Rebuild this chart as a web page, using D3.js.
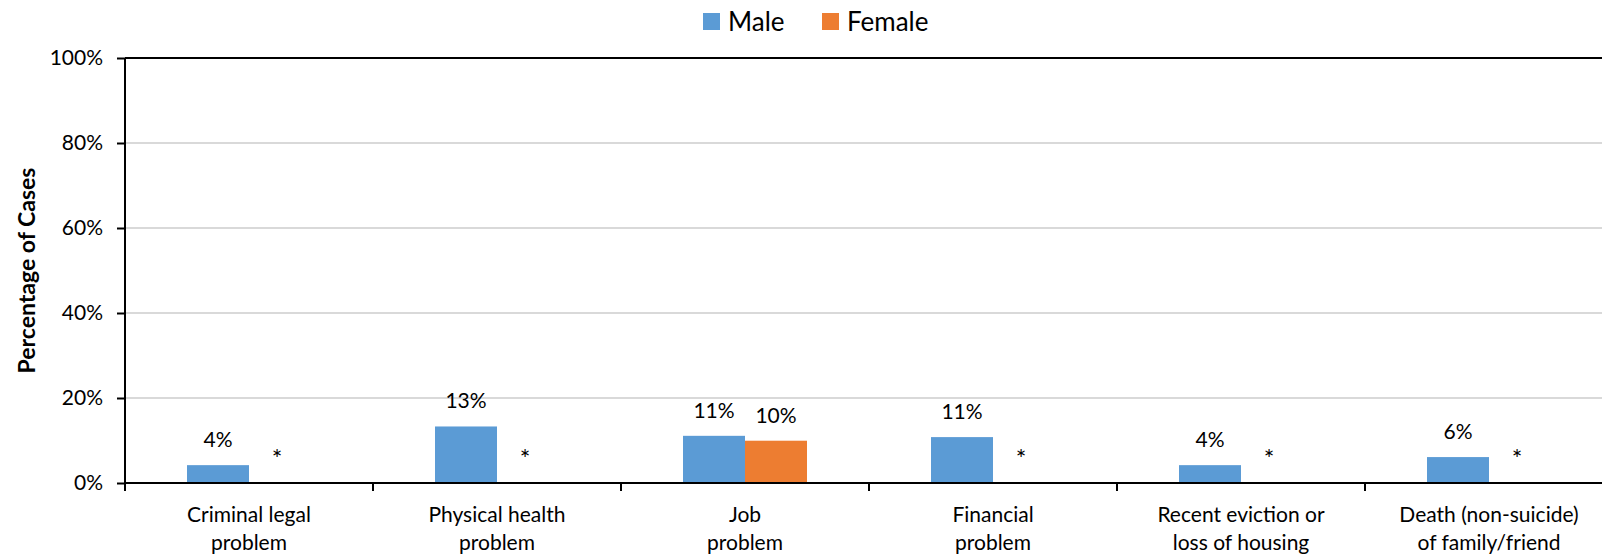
<!DOCTYPE html>
<html><head><meta charset="utf-8">
<script src="https://cdn.jsdelivr.net/npm/d3@7"></script>
<style>body{margin:0;background:#fff}svg{display:block}text{font-family:Lato,"Open Sans",sans-serif;fill:#000}</style>
</head><body><svg id="c" width="1602" height="557"></svg>
<script>
const categories = [["Criminal legal","problem"],["Physical health","problem"],["Job","problem"],["Financial","problem"],["Recent eviction or","loss of housing"],["Death (non-suicide)","of family/friend"]];
const seriesNames = ["Male","Female"];
const colors = ["#5B9BD5","#ED7D31"];
const maleValues = [4.2, 13.3, 11.1, 10.8, 4.2, 6.1];
const femaleValues = [null, null, 9.95, null, null, null];
const maleLabels = ["4%","13%","11%","11%","4%","6%"];
const femaleLabels = ["*","*","10%","*","*","*"];
const yTicks = [0,20,40,60,80,100];

(function(){
const svg = d3.select("#c");
const pLeft = 125, bandW = 248, pTop = 58, pBottom = 483;
const x = d3.scaleBand().domain(d3.range(categories.length)).range([pLeft, pLeft + bandW*categories.length]).paddingInner(0).paddingOuter(0);
const xs = d3.scaleBand().domain([0,1]).range([0, x.bandwidth()]).paddingInner(0).paddingOuter(1);
const y = d3.scaleLinear().domain([0,100]).range([pBottom, pTop]);

svg.append("g").selectAll("line").data(yTicks.filter(t=>t>0&&t<100)).join("line")
  .attr("x1", pLeft).attr("x2", 1602).attr("y1", d=>y(d)).attr("y2", d=>y(d))
  .attr("stroke", "#d9d9d9").attr("stroke-width", 2);
svg.append("line").attr("x1", pLeft).attr("x2", 1602).attr("y1", y(100)).attr("y2", y(100)).attr("stroke","#000").attr("stroke-width",2);

const series = [maleValues, femaleValues];
const labels = [maleLabels, femaleLabels];
series.forEach((vals, si) => {
  svg.append("g").selectAll("rect").data(vals.map((v,i)=>({v,i})).filter(d=>d.v!=null)).join("rect")
    .attr("x", d => x(d.i) + xs(si)).attr("width", xs.bandwidth())
    .attr("y", d => y(d.v)).attr("height", d => y(0) - y(d.v))
    .attr("fill", colors[si]);
  svg.append("g").selectAll("text").data(vals.map((v,i)=>({v,i,l:labels[si][i]}))).join("text")
    .attr("x", d => x(d.i) + xs(si) + xs.bandwidth()/2 + (d.v==null ? -3 : 0))
    .attr("y", d => d.v==null ? y(0) - 15 : y(d.v) - 18)
    .attr("text-anchor","middle").attr("font-size", d=> d.v==null ? 25 : 21).text(d => d.l);
});

const yAxis = d3.axisLeft(y).tickValues(yTicks).tickFormat(d=>d+"%").tickSize(8).tickPadding(14);
const gy = svg.append("g").attr("transform",`translate(${pLeft},0)`).call(yAxis);
gy.select(".domain").attr("stroke","#000").attr("stroke-width",2).attr("d",`M0,${pTop}V${pBottom}`);
gy.selectAll(".tick line").attr("stroke","#000").attr("stroke-width",2);
gy.selectAll(".tick text").attr("font-size",21).attr("font-family","Lato").attr("fill","#000");

const gx = svg.append("g").attr("transform",`translate(0,${pBottom})`);
gx.append("line").attr("x1",pLeft-1).attr("x2",1602).attr("stroke","#000").attr("stroke-width",2);
gx.selectAll("line.t").data(d3.range(categories.length)).join("line").attr("class","t")
  .attr("x1", d=>x(d)).attr("x2", d=>x(d)).attr("y1",0).attr("y2",8).attr("stroke","#000").attr("stroke-width",2);
const cl = gx.selectAll("text.c").data(categories).join("text").attr("class","c")
  .attr("text-anchor","middle").attr("font-size",21);
cl.append("tspan").attr("x",(d,i)=>x(i)+x.bandwidth()/2).attr("y",39).text(d=>d[0]);
cl.append("tspan").attr("x",(d,i)=>x(i)+x.bandwidth()/2).attr("y",67).text(d=>d[1]);

svg.append("text").attr("transform",`translate(35,${(pTop+pBottom)/2}) rotate(-90)`)
  .attr("text-anchor","middle").attr("font-size",23).attr("font-weight","bold").text("Percentage of Cases");

const leg = svg.append("g");
const legX = [703, 822];
seriesNames.forEach((n,i)=>{
  leg.append("rect").attr("x",legX[i]).attr("y",13).attr("width",17).attr("height",17).attr("fill",colors[i]);
  leg.append("text").attr("x",legX[i]+25).attr("y",30.5).attr("font-size",26).text(n);
});
})();
</script></body></html>
